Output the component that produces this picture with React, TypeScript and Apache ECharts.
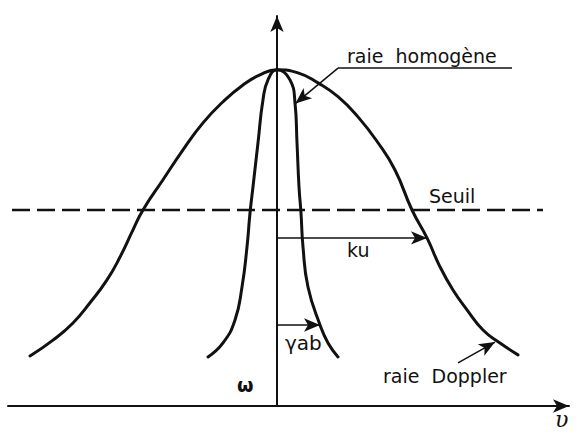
import { useEffect, useRef } from "react";
import * as echarts from "echarts";

// Doppler-broadened gain profile: detuning from ω, normalised gain
const dopplerDetuning = [
  -9.88, -8.96, -8.16, -7.48, -6.8, -6.28, -5.76, -5.36, -4.56, -3.76, -2.96, -2.16, -1.36, -0.68, 0,
  0.84, 1.64, 2.44, 3.24, 4.04, 4.72, 5.4, 6.0, 6.52, 7.04, 7.6, 8.24, 8.92, 9.64,
];
const dopplerGain = [
  0.149, 0.196, 0.247, 0.307, 0.375, 0.443, 0.524, 0.583, 0.673, 0.762, 0.842, 0.905, 0.955, 0.985, 1,
  0.991, 0.961, 0.92, 0.86, 0.783, 0.702, 0.583, 0.5, 0.414, 0.345, 0.286, 0.226, 0.1875, 0.152,
];

// Homogeneous line profile
const homogDetuning = [
  -2.76, -2.16, -1.68, -1.4, -1.2, -1.08, -0.96, -0.76, -0.56, -0.36, 0,
  0.52, 0.72, 0.8, 0.88, 0.96, 1.04, 1.24, 1.72, 2.04, 2.44,
];
const homogGain = [
  0.146, 0.1875, 0.256, 0.354, 0.473, 0.574, 0.652, 0.783, 0.911, 0.97, 1,
  0.97, 0.902, 0.783, 0.652, 0.574, 0.473, 0.354, 0.241, 0.1875, 0.146,
];

// Threshold level and its extent
const seuilLevel = 0.583;
const seuilSpan = [-10.6, 10.64];

// Half-widths drawn as arrows from the line centre
const ku = 6.0;
const kuLevel = 0.5;
const gammaAb = 1.72;
const gammaLevel = 0.241;

// Label pointers: [from, to]
const homogUnderline = [[9.4, 1.005], [2.44, 1.005]];
const homogPointer = [[2.44, 1.005], [0.74, 0.9]];
const dopplerPointer = [[7.24, 0.128], [8.72, 0.19]];

const INK = "#111";
const FONT = "DejaVu Sans";

export default function App() {
  const ref = useRef<HTMLDivElement>(null);

  useEffect(() => {
    if (!ref.current) return;
    document.body.style.margin = "0";
    const chart = echarts.init(ref.current, null, { renderer: "svg" });

    const pair = (xs: number[], ys: number[]) => xs.map((x, i) => [x, ys[i]]);
    const arrowLine = (a: number[], b: number[], head = true) => [
      { coord: a, symbol: "none" },
      { coord: b, symbol: head ? "arrow" : "none" },
    ];

    const text = (t: string, x: number, y: number, extra: any = {}) => ({
      type: "text",
      x,
      y,
      silent: true,
      style: {
        text: t,
        fill: INK,
        font: `19px "${FONT}"`,
        verticalAlign: "middle",
        align: "left",
        ...extra,
      },
    });

    chart.setOption({
      animation: false,
      backgroundColor: "#fff",
      grid: { left: 8, right: 9, top: 16, bottom: 28 },
      xAxis: {
        type: "value",
        min: -10.76,
        max: 11.68,
        axisLine: {
          onZero: false,
          lineStyle: { color: INK, width: 2 },
          symbol: ["none", "arrow"],
          symbolSize: [10, 16],
        },
        axisTick: { show: false },
        axisLabel: { show: false },
        splitLine: { show: false },
      },
      yAxis: {
        type: "value",
        min: 0,
        max: 1.16,
        axisLine: {
          onZero: true,
          lineStyle: { color: INK, width: 2 },
          symbol: ["none", "arrow"],
          symbolSize: [10, 16],
        },
        axisTick: { show: false },
        axisLabel: { show: false },
        splitLine: { show: false },
      },
      series: [
        {
          name: "raie Doppler",
          type: "line",
          data: pair(dopplerDetuning, dopplerGain),
          smooth: 0.5,
          showSymbol: false,
          silent: true,
          lineStyle: { color: INK, width: 3, cap: "round" },
        },
        {
          name: "raie homogène",
          type: "line",
          data: pair(homogDetuning, homogGain),
          smooth: 0.5,
          showSymbol: false,
          silent: true,
          lineStyle: { color: INK, width: 3, cap: "round" },
        },
        {
          name: "Seuil",
          type: "line",
          data: seuilSpan.map((x) => [x, seuilLevel]),
          showSymbol: false,
          silent: true,
          lineStyle: { color: INK, width: 2.5, type: [18, 7] },
          markLine: {
            silent: true,
            animation: false,
            label: { show: false },
            symbolSize: [10, 16],
            lineStyle: { color: INK, width: 1.5, type: "solid" },
            data: [
              arrowLine([0, kuLevel], [ku, kuLevel]),
              arrowLine([0, gammaLevel], [gammaAb, gammaLevel]),
              arrowLine(homogUnderline[0], homogUnderline[1], false),
              arrowLine(homogPointer[0], homogPointer[1]),
              arrowLine(dopplerPointer[0], dopplerPointer[1]),
            ],
          },
        },
      ],
      graphic: [
        text("raie  homogène", 347, 56),
        text("Seuil", 429, 196),
        text("ku", 347, 250),
        text("γab", 285, 343, { font: `20px "${FONT}"` }),
        text("ω", 237, 385, { font: `bold 19px "${FONT}"` }),
        text("raie  Doppler", 383, 376),
        text("υ", 555, 419, { font: `italic 22px "DejaVu Serif"` }),
      ],
    });

    return () => chart.dispose();
  }, []);

  return <div ref={ref} style={{ width: 578, height: 434 }} />;
}
